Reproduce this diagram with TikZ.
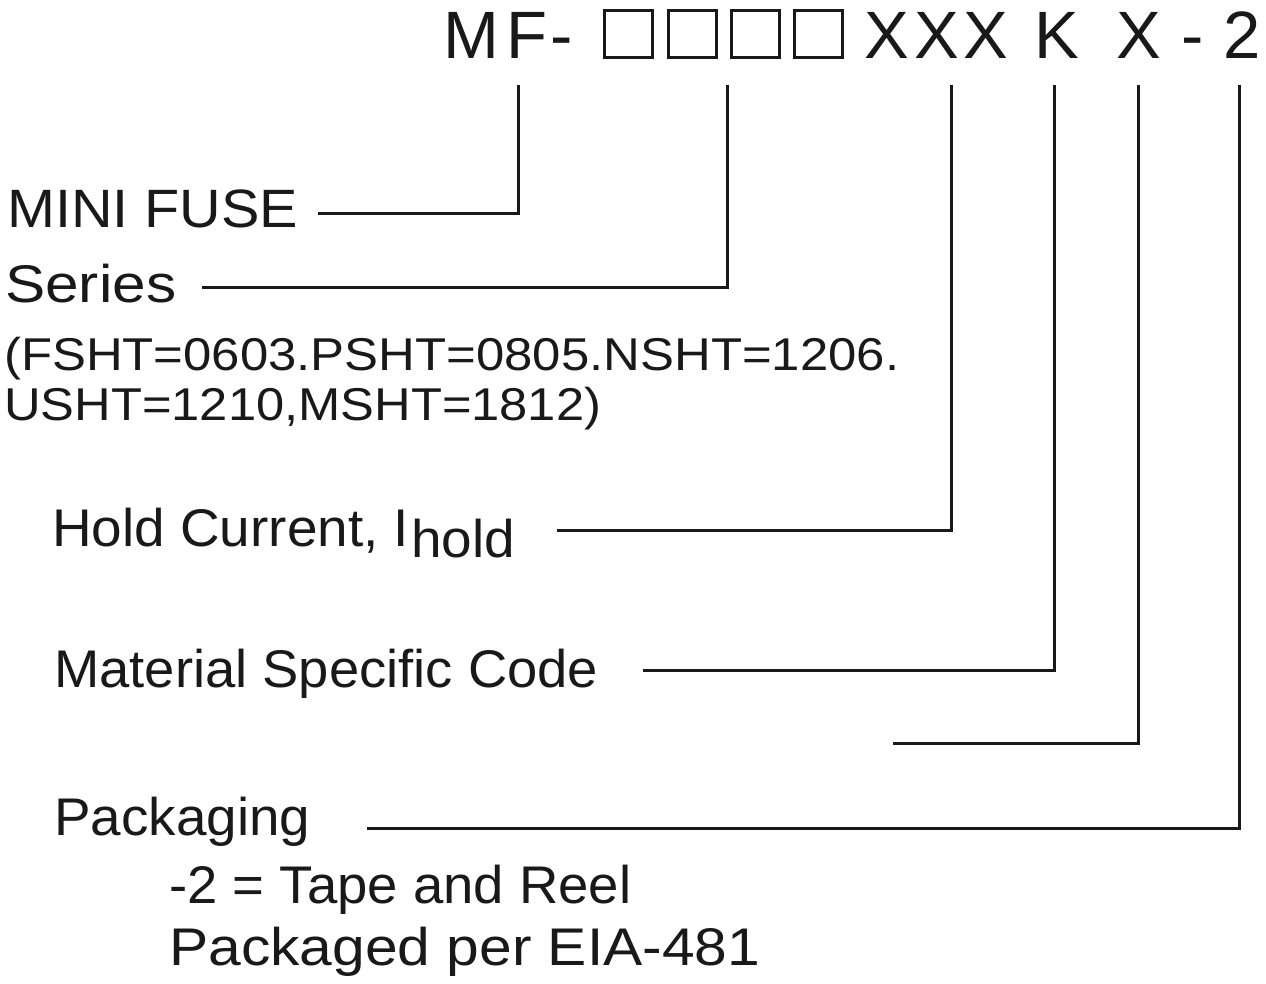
\documentclass[tikz,border=0pt]{standalone}
\usepackage{fontspec}
\usepackage{graphicx}
\setmainfont{Liberation Sans}
\newcommand\fitt[2]{\resizebox{#1pt}{\height}{#2}}
\begin{document}
\begin{tikzpicture}[x=1pt,y=-1pt,
  hdr/.style={font=\fontsize{67}{67}\selectfont, inner sep=0pt, anchor=base, text=black!90},
  lbl/.style={inner sep=0pt, anchor=base west, text=black!90},
  big/.style={lbl, font=\fontsize{53}{53}\selectfont},
  small/.style={lbl, font=\fontsize{46}{46}\selectfont},
  sq/.style={draw=black!90, line width=3pt, minimum width=48pt, minimum height=47pt, inner sep=0pt},
  conn/.style={draw=black!90, line width=3pt}]
\path[use as bounding box, fill=white] (0,0) rectangle (1266,983);

% header code
\node[hdr] (hM) at (471,58) {M};
\node[hdr] (hF) at (527,58) {F};
\node[hdr] (hD) at (562,58) {-};
\node[sq] (s1) at (628,33.5) {};
\node[sq] (s2) at (692,33.5) {};
\node[sq] (s3) at (755,33.5) {};
\node[sq] (s4) at (818,33.5) {};
\node[hdr] (x1) at (887,58) {X};
\node[hdr] (x2) at (937,58) {X};
\node[hdr] (x3) at (986,58) {X};
\node[hdr] (hK) at (1057,58) {K};
\node[hdr] (x4) at (1139,58) {X};
\node[hdr] (hD2) at (1193,58) {-};
\node[hdr] (h2) at (1242,58) {2};

% labels
\node[lbl, font=\fontsize{54}{54}\selectfont] (mini) at (7,227) {\fitt{291}{MINI FUSE}};
\node[big] (series) at (5,302) {\fitt{171}{Series}};
\node[small] (fsht) at (4,370) {\fitt{895}{(FSHT=0603.PSHT=0805.NSHT=1206.}};
\node[small] (usht) at (4,420) {\fitt{597}{USHT=1210,MSHT=1812)}};
\node[big] (hold) at (52,546) {\fitt{463}{Hold Current, I\kern2pt\raisebox{-11pt}{hold}}};
\node[big] (mat) at (54,687) {\fitt{544}{Material Specific Code}};
\node[big] (pack) at (54,835) {\fitt{256}{Packaging}};
\node[big] (tape) at (169,903) {\fitt{462}{-2 = Tape and Reel}};
\node[big] (eia) at (169,965) {\fitt{591}{Packaged per EIA-481}};

% connector ends
\coordinate (tMF) at (518,85);   \coordinate (eMF) at (318,213);
\coordinate (tSer) at (727,85);  \coordinate (eSer) at (202,287);
\coordinate (tHold) at (951,85); \coordinate (eHold) at (557,530);
\coordinate (tK) at (1054,85);   \coordinate (eK) at (643,670);
\coordinate (tX) at (1138,85);   \coordinate (eX) at (893,743);
\coordinate (tP) at (1239,85);   \coordinate (eP) at (367,828);

\draw[conn] (tMF) |- (eMF);
\draw[conn] (tSer) |- (eSer);
\draw[conn] (tHold) |- (eHold);
\draw[conn] (tK) |- (eK);
\draw[conn] (tX) |- (eX);
\draw[conn] (tP) |- (eP);
\end{tikzpicture}
\end{document}
